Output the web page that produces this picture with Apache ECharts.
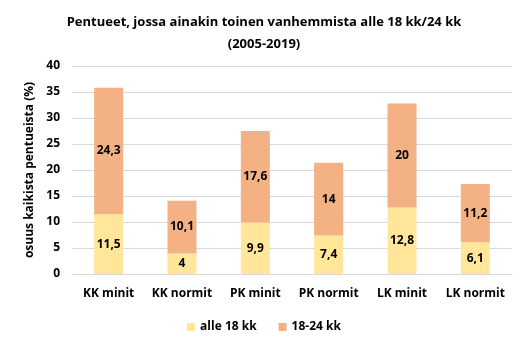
<!DOCTYPE html>
<html>
<head>
<meta charset="utf-8">
<script src="https://cdn.jsdelivr.net/npm/echarts@6/dist/echarts.min.js"></script>
<style>
  html, body { margin: 0; padding: 0; background: #fff; }
  #chart { width: 528px; height: 348px; }
</style>
</head>
<body>
<div id="chart"></div>
<script>
const categories = ['KK minit', 'KK normit', 'PK minit', 'PK normit', 'LK minit', 'LK normit'];
const under18 = [11.5, 4, 9.9, 7.4, 12.8, 6.1];
const from18to24 = [24.3, 10.1, 17.6, 14, 20, 11.2];
const seriesNames = ['alle 18 kk', '18-24 kk'];
const yTicks = { min: 0, max: 40, interval: 5 };

const FONT = '"Open Sans", "DejaVu Sans", sans-serif';
const fmt = v => String(v).replace('.', ',');

const chart = echarts.init(document.getElementById('chart'));
chart.setOption({
  animation: false,
  title: {
    text: 'Pentueet, jossa ainakin toinen vanhemmista alle 18 kk/24 kk\n(2005-2019)',
    left: 'center',
    top: 6,
    textStyle: { fontFamily: FONT, fontSize: 13, fontWeight: 'bold', color: '#000', lineHeight: 22 }
  },
  legend: {
    bottom: 10,
    left: 'center',
    itemWidth: 8,
    itemHeight: 8,
    itemGap: 22,
    icon: 'rect',
    textStyle: { fontFamily: FONT, fontSize: 12, fontWeight: 'bold', color: '#000' },
    data: seriesNames
  },
  grid: { left: 72, right: 16, top: 66, bottom: 74 },
  xAxis: {
    type: 'category',
    data: categories,
    axisTick: { show: false },
    axisLine: { lineStyle: { color: '#d9d9d9' } },
    axisLabel: { interval: 0, fontFamily: FONT, fontSize: 12, fontWeight: 'bold', color: '#000', margin: 14 }
  },
  yAxis: {
    type: 'value',
    min: yTicks.min, max: yTicks.max, interval: yTicks.interval,
    name: 'osuus kaikista pentueista (%)',
    nameLocation: 'middle',
    nameGap: 34,
    nameTextStyle: { fontFamily: FONT, fontSize: 12, fontWeight: 'bold', color: '#000' },
    axisLabel: { fontFamily: FONT, fontSize: 12, fontWeight: 'bold', color: '#000', margin: 12 },
    splitLine: { lineStyle: { color: '#d9d9d9' } }
  },
  series: [
    {
      name: seriesNames[0], type: 'bar', stack: 'total', data: under18, barWidth: 29,
      itemStyle: { color: '#FFE699' },
      label: { show: true, position: 'inside', formatter: p => fmt(p.value),
               fontFamily: FONT, fontSize: 12, fontWeight: 'bold', color: '#000' }
    },
    {
      name: seriesNames[1], type: 'bar', stack: 'total', data: from18to24, barWidth: 29,
      itemStyle: { color: '#F4B183' },
      label: { show: true, position: 'inside', formatter: p => fmt(p.value),
               fontFamily: FONT, fontSize: 12, fontWeight: 'bold', color: '#000' }
    }
  ]
});
</script>
</body>
</html>
